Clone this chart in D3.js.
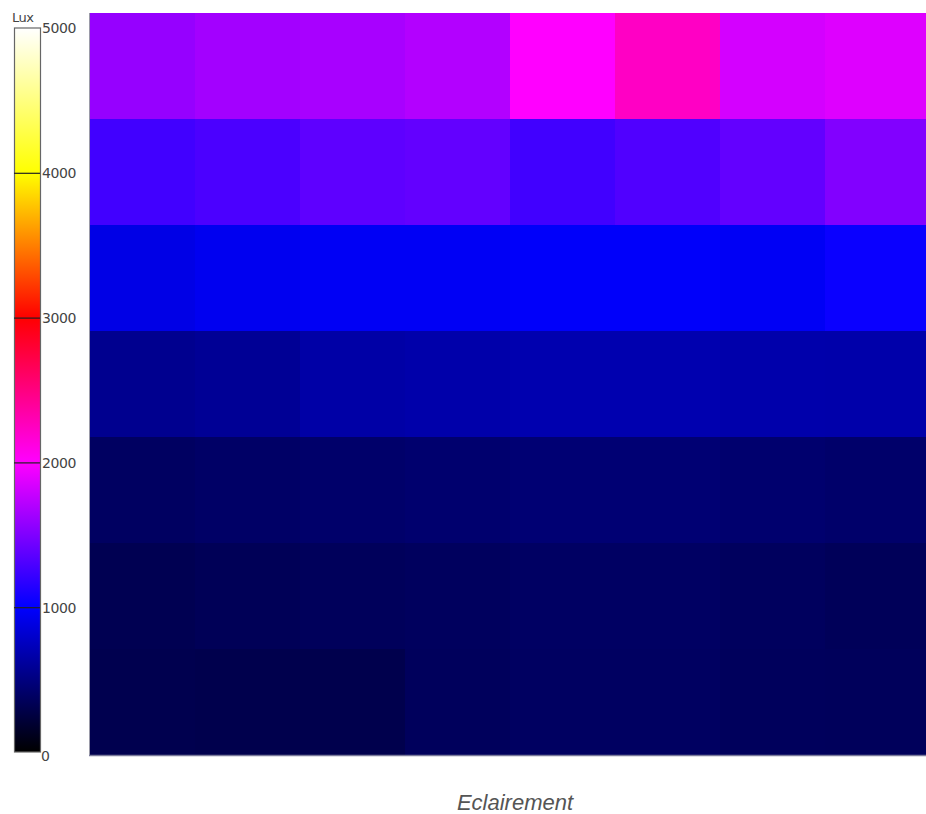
<!DOCTYPE html>
<html><head><meta charset="utf-8">
<script src="https://cdn.jsdelivr.net/npm/d3@7"></script>
<style>html,body{margin:0;padding:0;background:#fff;overflow:hidden}</style>
</head><body>
<svg id="chart" width="926" height="814"></svg>
<script>
// Illuminance grid (Lux), rows top → bottom, 8 columns each
const rows = ["r1","r2","r3","r4","r5","r6","r7"];
const cols = ["c1","c2","c3","c4","c5","c6","c7","c8"];
const row1 = [1590, 1640, 1660, 1700, 2000, 2230, 1830, 1870];
const row2 = [1255, 1295, 1370, 1390, 1255, 1315, 1390, 1510];
const row3 = [ 900,  940,  960,  960,  980,  980,  960, 1040];
const row4 = [ 560,  585,  650,  665,  685,  685,  670,  665];
const row5 = [ 380,  400,  415,  430,  450,  450,  430,  415];
const row6 = [ 320,  340,  355,  370,  390,  390,  370,  350];
const row7 = [ 310,  300,  300,  360,  380,  380,  360,  355];
const values = [row1,row2,row3,row4,row5,row6,row7];
const colorTicks = [0,1000,2000,3000,4000,5000];
const colorStops = ["#000000","#0000ff","#ff00ff","#ff0000","#ffff00","#ffffff"];
const legendTitle = "Lux";
const axisTitle = "Eclairement";

const svg = d3.select("#chart");
const color = d3.scaleLinear().domain(colorTicks).range(colorStops).clamp(true);

const x = d3.scaleBand().domain(cols).range([90, 930]).padding(0);
const y = d3.scaleBand().domain(rows).range([13, 755]).padding(0);

const cells = [];
values.forEach((r,i)=>r.forEach((v,j)=>cells.push({r:rows[i],c:cols[j],v})));
svg.append("g").selectAll("rect").data(cells).join("rect")
  .attr("x",d=>x(d.c)).attr("y",d=>y(d.r))
  .attr("width",x.bandwidth()+0.5).attr("height",y.bandwidth()+0.5)
  .attr("fill",d=>color(d.v));

// plot frame lines
svg.append("line").attr("x1",89.5).attr("x2",89.5).attr("y1",13).attr("y2",756)
  .attr("stroke","#9a9aa8").attr("stroke-width",1);
svg.append("line").attr("x1",89).attr("x2",926).attr("y1",755.5).attr("y2",755.5)
  .attr("stroke","#7a7a9a").attr("stroke-width",1.5);

// color bar
const cb = d3.scaleLinear().domain([0,5000]).range([752,28]);
const defs = svg.append("defs");
const grad = defs.append("linearGradient").attr("id","cbgrad")
  .attr("x1",0).attr("y1",1).attr("x2",0).attr("y2",0);
colorTicks.forEach((t,i)=>grad.append("stop").attr("offset",t/5000).attr("stop-color",colorStops[i]));
svg.append("rect").attr("x",14.5).attr("y",cb(5000)).attr("width",26)
  .attr("height",cb(0)-cb(5000)).attr("fill","url(#cbgrad)")
  .attr("stroke","#666").attr("stroke-width",1.2);

const axis = d3.axisRight(cb).tickValues(colorTicks).tickSize(0).tickPadding(2).tickFormat(d3.format("d"));
const ag = svg.append("g").attr("transform","translate(40,0)").call(axis);
ag.select(".domain").remove();
ag.selectAll("text").attr("font-family","DejaVu Sans, sans-serif").attr("font-size",14)
  .attr("letter-spacing","-0.4px").attr("fill","#444").attr("dy","0.35em");
ag.selectAll(".tick").append("line").attr("x1",-26).attr("x2",0).attr("y1",0).attr("y2",0)
  .attr("stroke","#222").attr("stroke-width",1.2);
ag.selectAll(".tick line").filter(d=>d===0||d===5000).attr("stroke","none");
ag.selectAll(".tick text").filter(d=>d===0).attr("dy","0.6em").attr("x",1);

svg.append("text").attr("x",12).attr("y",22).text(legendTitle)
  .attr("font-family","DejaVu Sans, sans-serif").attr("font-size",13)
  .attr("letter-spacing","-0.5px").attr("fill","#444");

svg.append("text").attr("x",515).attr("y",810).attr("text-anchor","middle")
  .attr("font-family","Liberation Sans, Arial, sans-serif").attr("font-style","italic")
  .attr("font-size",22).attr("fill","#555").text(axisTitle);
</script>
</body></html>
